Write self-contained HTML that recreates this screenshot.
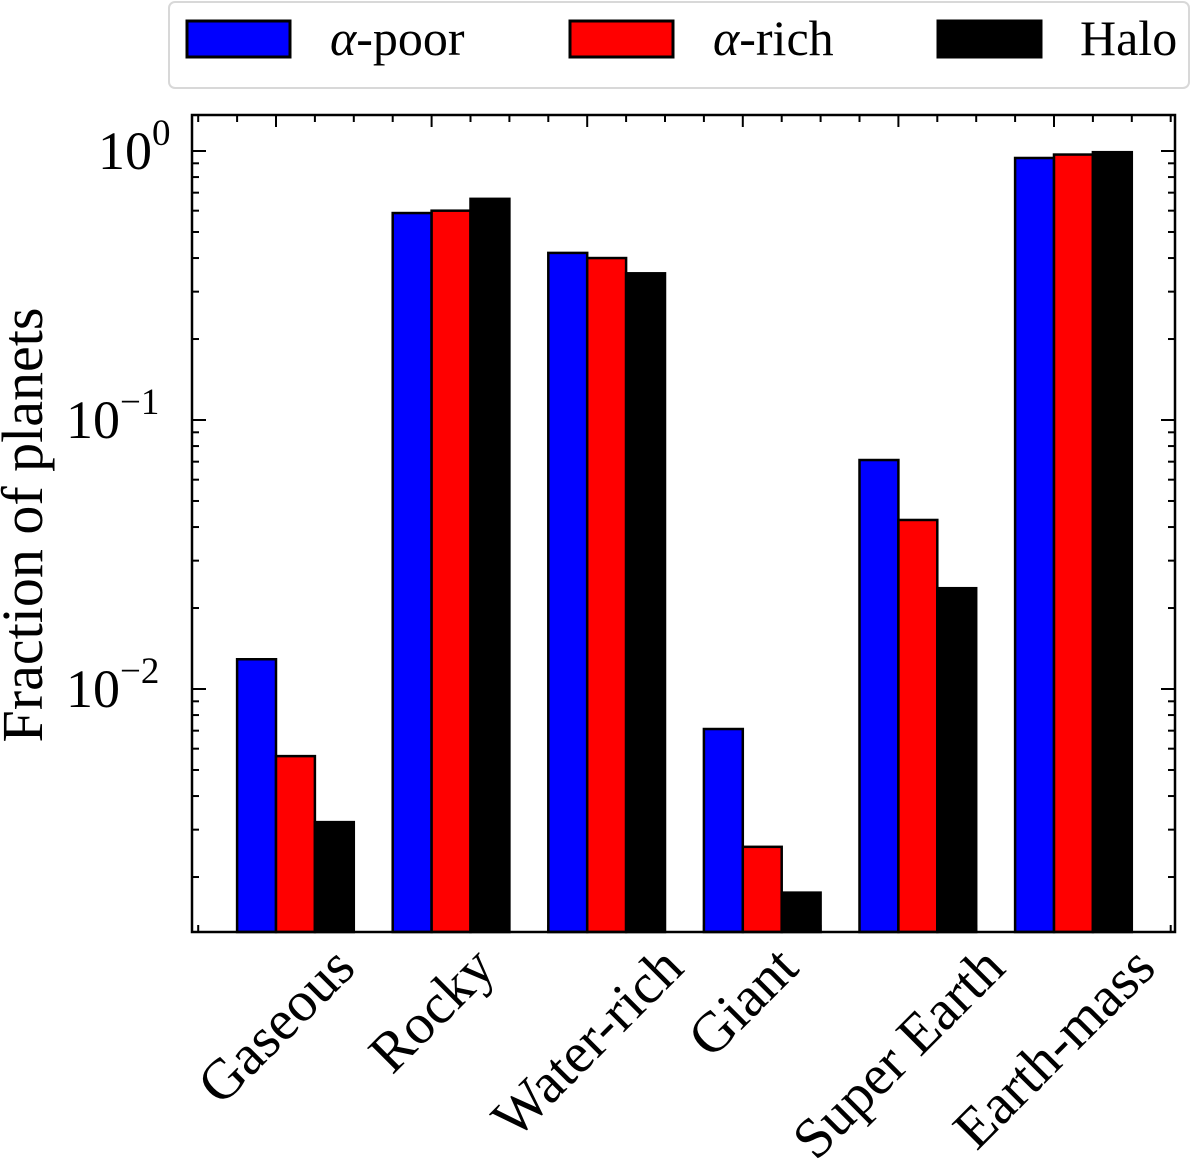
<!DOCTYPE html>
<html><head><meta charset="utf-8"><style>
body{margin:0;background:#fff;}
text{font-family:"Liberation Serif","DejaVu Serif",serif;fill:#000;}
</style></head><body>
<svg id="chart" width="1200" height="1165" xmlns="http://www.w3.org/2000/svg">
<rect x="169" y="2" width="1020" height="86" rx="6" fill="#fff" stroke="#d8d8d8" stroke-width="2"/>
<g>
<rect x="187" y="21" width="103" height="36" fill="#0000ff" stroke="#000" stroke-width="3"/>
<text x="330" y="55" font-size="50"><tspan font-style="italic">α</tspan>-poor</text></g>
<g>
<rect x="570" y="21" width="103" height="36" fill="#ff0000" stroke="#000" stroke-width="3"/>
<text x="713" y="55" font-size="50"><tspan font-style="italic">α</tspan>-rich</text></g>
<g>
<rect x="938" y="21" width="103" height="36" fill="#000" stroke="#000" stroke-width="3"/>
<text x="1080" y="55" font-size="50">Halo</text></g>
<g id="plot"></g>
<text transform="translate(42,525) rotate(-90)" text-anchor="middle" font-size="58">Fraction of planets</text>
</svg>
<script>
const categories=["Gaseous","Rocky","Water-rich","Giant","Super Earth","Earth-mass"];
const alphaPoor=[0.0129,0.588,0.418,0.0071,0.071,0.942];
const alphaRich=[0.00563,0.60,0.40,0.00259,0.0425,0.97];
const halo=[0.0032,0.664,0.351,0.00175,0.0237,0.99];
const yTickExps=[0,-1,-2];
const L=192,R=1175,T=115,B=932;
const NS="http://www.w3.org/2000/svg";
const g=document.getElementById('plot');
function y(v){return 151+(-Math.log10(v))*269;}
function x(i){return 276+i*155.6;}
const bw=38.9;
function mk(tag,attrs){const e=document.createElementNS(NS,tag);for(const k in attrs)e.setAttribute(k,attrs[k]);g.appendChild(e);return e;}
const series=[[alphaPoor,'#0000ff','alpha-poor'],[alphaRich,'#ff0000','alpha-rich'],[halo,'#000000','halo']];
series.forEach((s,si)=>{s[0].forEach((v,i)=>{
const x0=x(i)-bw+si*bw;const yt=y(v);
const r=mk('rect',{x:x0,y:yt,width:bw,height:B-yt,fill:s[1],stroke:'#000','stroke-width':2.5});


});});
mk('rect',{x:L,y:T,width:R-L,height:B-T,fill:'none',stroke:'#000','stroke-width':2.5});
for(let k=-2;k<=25;k++){const xx=276+k*38.9;if(xx<=L+1||xx>=R-1)continue;const len=k%4===0?12:7;
mk('line',{x1:xx,y1:T,x2:xx,y2:T+len,stroke:'#000','stroke-width':2});
mk('line',{x1:xx,y1:B,x2:xx,y2:B-len,stroke:'#000','stroke-width':2});}
for(let e=-3;e<=0;e++){for(let m=1;m<10;m++){const v=m*Math.pow(10,e);const yy=y(v);if(yy<T||yy>B)continue;const len=m===1?14:7;
mk('line',{x1:L,y1:yy,x2:L+len,y2:yy,stroke:'#000','stroke-width':2});
mk('line',{x1:R,y1:yy,x2:R-len,y2:yy,stroke:'#000','stroke-width':2});}}
yTickExps.forEach(e=>{const t=mk('text',{x:e===0?98:66,y:y(Math.pow(10,e))+18,'font-size':54});
t.textContent='10';
const s=document.createElementNS(NS,'tspan');s.setAttribute('dy','-24');s.setAttribute('font-size','37');s.textContent=e===0?'0':'\u2212'+(-e);t.appendChild(s);


});
const fs=57;
categories.forEach((c,i)=>{const t=mk('text',{x:0,y:fs*0.33,'text-anchor':'middle','font-size':fs});t.textContent=c;
const w=t.getComputedTextLength();
const cy=940+(w+fs*0.85)/(2*Math.SQRT2);
t.setAttribute('transform',`translate(${x(i)},${cy}) rotate(-45)`);

});
</script>
</body></html>
